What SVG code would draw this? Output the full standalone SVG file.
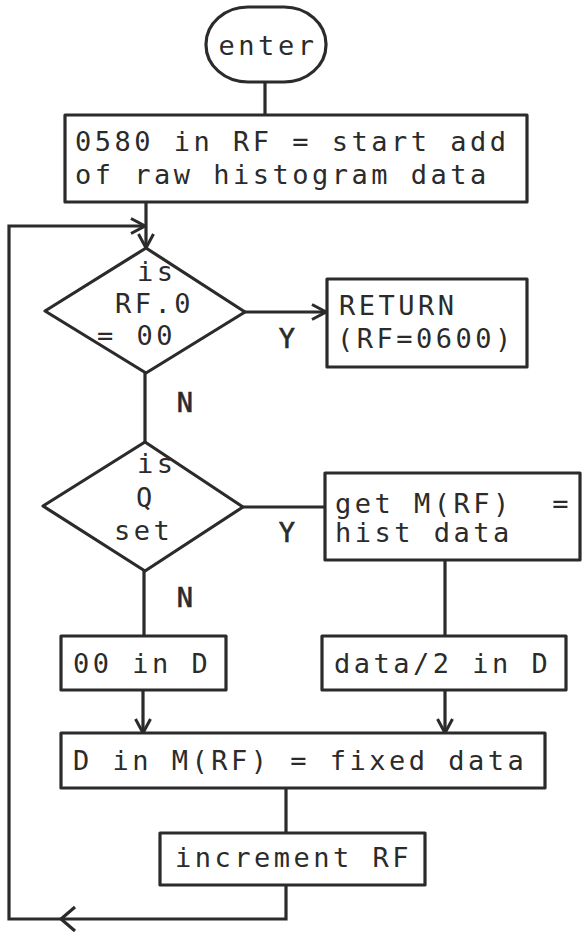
<svg xmlns="http://www.w3.org/2000/svg" width="582" height="932" viewBox="0 0 582 932">
<style>
  .shape { fill: #ffffff; stroke: #2b2b2b; stroke-width: 3.2; stroke-linejoin: round; }
  .line { fill: none; stroke: #2b2b2b; stroke-width: 3.2; stroke-linejoin: miter; }
  .t { font-family: "DejaVu Sans Mono", "Liberation Mono", monospace; font-size: 27px; letter-spacing: 3.5px; fill: #2b2b2b; }
  .lbl { font-family: "DejaVu Sans Mono", "Liberation Mono", monospace; font-size: 27px; fill: #2b2b2b; text-anchor: middle; stroke: #2b2b2b; stroke-width: 0.6; }
</style>
<defs>
  <marker id="arr" markerUnits="userSpaceOnUse" viewBox="0 0 16 18" refX="15" refY="9" markerWidth="16" markerHeight="18" orient="auto">
    <path d="M1,1.5 L15,9 L1,16.5" fill="none" stroke="#2b2b2b" stroke-width="3"/>
  </marker>
</defs>
<rect width="582" height="932" fill="#ffffff"/>

<g id="connectors">
  <line class="line" x1="265" y1="82" x2="265" y2="115"/>
  <line class="line" x1="146" y1="202" x2="146" y2="248" marker-end="url(#arr)"/>
  <line class="line" x1="245" y1="312" x2="326" y2="312" marker-end="url(#arr)"/>
  <line class="line" x1="145" y1="373" x2="145" y2="442"/>
  <line class="line" x1="243" y1="507" x2="325" y2="507"/>
  <line class="line" x1="144" y1="571" x2="144" y2="636"/>
  <line class="line" x1="445" y1="560" x2="445" y2="636"/>
  <line class="line" x1="143" y1="690" x2="143" y2="733" marker-end="url(#arr)"/>
  <line class="line" x1="445" y1="690" x2="445" y2="733" marker-end="url(#arr)"/>
  <line class="line" x1="286" y1="788" x2="286" y2="833"/>
  <polyline class="line" points="286,885 286,919 9,919 9,226 145,226" marker-end="url(#arr)"/>
  <path class="line" d="M75,907 L61,919 L75,931"/>
  <text class="lbl" x="287" y="348">Y</text>
  <text class="lbl" x="185" y="412">N</text>
  <text class="lbl" x="287" y="542">Y</text>
  <text class="lbl" x="185" y="607">N</text>
</g>

<g id="enter">
  <rect class="shape" x="206" y="7" width="120" height="75" rx="42" ry="37"/>
  <text class="t" x="268" y="55" text-anchor="middle">enter</text>
</g>

<g id="init">
  <rect class="shape" x="65" y="115" width="462" height="87"/>
  <text class="t" x="75" y="151">0580 in RF = start add</text>
  <text class="t" x="75" y="184">of raw histogram data</text>
</g>

<g id="test-rf">
  <polygon class="shape" points="146,248 245,312 146,373 45,311"/>
  <text class="t" x="137" y="281">is</text>
  <text class="t" x="115" y="313">RF.0</text>
  <text class="t" x="97" y="345">= 00</text>
</g>

<g id="return">
  <rect class="shape" x="327" y="279" width="200" height="88"/>
  <text class="t" x="339" y="315">RETURN</text>
  <text class="t" x="337" y="348">(RF=0600)</text>
</g>

<g id="test-q">
  <polygon class="shape" points="145,442 243,507 145,571 43,506"/>
  <text class="t" x="137" y="473">is</text>
  <text class="t" x="136" y="507">Q</text>
  <text class="t" x="114" y="540">set</text>
</g>

<g id="get-data">
  <rect class="shape" x="325" y="473" width="255" height="87"/>
  <text class="t" x="335" y="513" xml:space="preserve" style="white-space:pre">get M(RF)  =</text>
  <text class="t" x="335" y="542">hist data</text>
</g>

<g id="zero-d">
  <rect class="shape" x="61" y="636" width="165" height="54"/>
  <text class="t" x="73" y="673">00 in D</text>
</g>

<g id="half-d">
  <rect class="shape" x="322" y="636" width="244" height="54"/>
  <text class="t" x="334" y="673">data/2 in D</text>
</g>

<g id="store">
  <rect class="shape" x="61" y="733" width="484" height="55"/>
  <text class="t" x="73" y="770">D in M(RF) = fixed data</text>
</g>

<g id="increment">
  <rect class="shape" x="160" y="833" width="265" height="52"/>
  <text class="t" x="175" y="867">increment RF</text>
</g>
</svg>
